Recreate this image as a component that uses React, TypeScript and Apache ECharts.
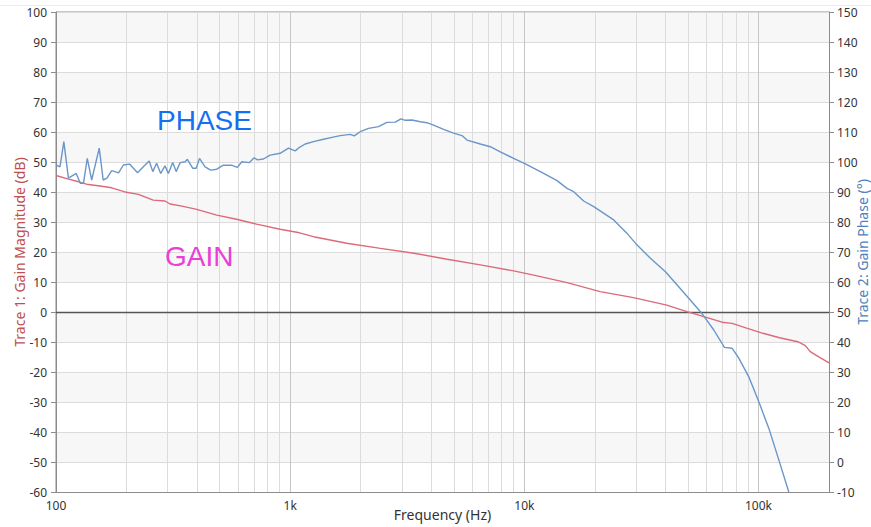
import React, { useEffect, useRef } from "react";
import * as echarts from "echarts";

// Trace 2: phase (degrees) vs frequency (Hz)
const phaseFreq = [
  100, 104, 108, 113, 122, 127, 131, 136, 142, 153,
  159, 165, 173, 185, 194, 206, 223, 236, 250, 259,
  269, 280, 292, 302, 315, 326, 339, 356, 364, 384,
  397, 410, 433, 458, 486, 516, 564, 595, 622, 670,
  702, 725, 769, 821, 906, 983, 1051, 1096, 1159, 1258,
  1388, 1508, 1636, 1805, 1877, 1991, 2161, 2384, 2589, 2810,
  2972, 3100, 3312, 3594, 3839, 4097, 4520, 4987, 5416, 5690,
  6486, 7155, 7897, 9001, 10100, 12090, 13790, 15220, 16240, 17920,
  19780, 24080, 27470, 30300, 34550, 40050, 44940, 50360, 56500, 59360,
  64420, 71550, 77200, 82380, 90890, 100300, 110700, 122100, 134700,
];
const phaseDeg = [
  99, 98.4, 106.8, 94.6, 96.2, 92.9, 92.9, 101.2, 94, 104.6,
  94, 94.6, 97.1, 96.4, 99, 99.3, 96.4, 98.4, 100.3, 96.8,
  99.6, 96.2, 98.7, 96.2, 99.8, 96.8, 99.8, 100.1, 100.9, 97.9,
  97.9, 101.2, 98.4, 97.3, 97.6, 98.9, 98.9, 98.2, 100.1, 99.8,
  101.4, 100.7, 101, 102.3, 102.9, 104.6, 103.7, 104.9, 106, 106.8,
  107.6, 108.2, 108.8, 109.2, 108.7, 110.1, 111.2, 111.8, 113.2, 113.3,
  114.4, 113.9, 114, 113.4, 113.1, 112.3, 110.9, 109.6, 108.8, 107.3,
  106, 105.1, 103.4, 101.2, 99.4, 96.2, 93.8, 91.2, 90.1, 87,
  85.1, 80.7, 76.2, 72.3, 67.9, 63.4, 59, 54.6, 50.1, 47.9,
  44, 38.2, 37.9, 34.6, 28.4, 20.1, 11.2, 0.7, -10,
];

// Trace 1: gain magnitude (dB) vs frequency (Hz)
const gainFreq = [
  100, 113, 125, 135, 154, 173, 200, 225, 260, 292,
  307, 345, 399, 486, 590, 719, 906, 1096, 1258, 1745,
  2430, 3380, 4680, 6486, 9001, 10970, 15220, 21090, 29250, 40580,
  49490, 56500, 69890, 77200, 89000, 104500, 123000, 147000, 158600, 166200,
  182400, 198400, 200000,
];
const gainDb = [
  45.5, 44.3, 43.4, 42.6, 42, 41.4, 39.9, 39.2, 37.3, 37,
  36, 35.3, 34.2, 32.3, 30.9, 29.3, 27.6, 26.4, 25.1, 22.9,
  21.2, 19.6, 17.6, 15.7, 13.7, 12.3, 9.8, 6.8, 4.8, 2.3,
  0.1, -1.2, -3.4, -3.8, -5.4, -7.1, -8.6, -9.9, -11.2, -13.2,
  -15.1, -16.8, -17,
];

const xTickLabels: Record<number, string> = { 2: "100", 3: "1k", 4: "10k", 5: "100k" };
const minorGridFreq = [
  200, 300, 400, 500, 600, 700, 800, 900,
  2000, 3000, 4000, 5000, 6000, 7000, 8000, 9000,
  20000, 30000, 40000, 50000, 60000, 70000, 80000, 90000,
];

const FONT = "'Noto Sans', 'Open Sans', sans-serif";
const AXIS_GRAY = "#8c8c8c";

export default function App() {
  const ref = useRef<HTMLDivElement>(null);

  useEffect(() => {
    const chart = echarts.init(ref.current!, null, { renderer: "svg" });
    chart.setOption({
      animation: false,
      backgroundColor: "#ffffff",
      textStyle: { fontFamily: FONT },
      grid: {
        left: 56,
        right: 42,
        top: 12,
        bottom: 35,
        containLabel: false,
        outerBoundsMode: "none",
        show: true,
        borderColor: AXIS_GRAY,
        borderWidth: 1,
        backgroundColor: "transparent",
      },
      xAxis: {
        type: "log",
        logBase: 10,
        min: 100,
        max: 200000,
        name: "Frequency (Hz)",
        nameLocation: "middle",
        nameGap: 15,
        nameMoveOverlap: false,
        nameTextStyle: { color: "#333", fontSize: 14, fontFamily: FONT },
        axisLine: { show: true, onZero: false, lineStyle: { color: AXIS_GRAY } },
        axisTick: { show: false },
        axisLabel: {
          color: "#333",
          fontSize: 12,
          margin: 7,
          fontFamily: FONT,
          formatter: (v: number) => {
            const e = Math.log10(v);
            const r = Math.round(e);
            return Math.abs(e - r) < 1e-6 ? xTickLabels[r] ?? "" : "";
          },
        },
        splitLine: { show: true, lineStyle: { color: "#c6c6c6", width: 1 } },
      },
      yAxis: [
        {
          type: "value",
          min: -60,
          max: 100,
          interval: 10,
          position: "left",
          name: "Trace 1: Gain Magnitude (dB)",
          nameLocation: "middle",
          nameGap: 30,
          nameMoveOverlap: false,
          nameTextStyle: { color: "#c0504d", fontSize: 14, fontFamily: FONT },
          axisLine: { show: true, lineStyle: { color: AXIS_GRAY } },
          axisTick: { show: true, length: 5, lineStyle: { color: AXIS_GRAY } },
          axisLabel: { color: "#333", fontSize: 12, margin: 9, fontFamily: FONT },
          splitLine: { show: true, lineStyle: { color: "#dcdcdc", width: 1 } },
          splitArea: { show: true, areaStyle: { color: ["#ffffff", "#f7f7f7"] } },
        },
        {
          type: "value",
          min: -10,
          max: 150,
          interval: 10,
          position: "right",
          name: "Trace 2: Gain Phase (°)",
          nameLocation: "middle",
          nameGap: 26,
          nameMoveOverlap: false,
          nameTextStyle: { color: "#4f81bd", fontSize: 14, fontFamily: FONT },
          axisLine: { show: true, lineStyle: { color: AXIS_GRAY } },
          axisTick: { show: true, length: 5, lineStyle: { color: AXIS_GRAY } },
          axisLabel: { color: "#333", fontSize: 12, margin: 8, fontFamily: FONT },
          splitLine: { show: false },
        },
      ],
      series: [
        {
          name: "grid",
          type: "line",
          data: [],
          silent: true,
          markLine: {
            z: 1,
            silent: true,
            symbol: "none",
            label: { show: false },
            animation: false,
            lineStyle: { color: "#dcdcdc", width: 1, type: "solid" },
            data: minorGridFreq.map((f) => ({ xAxis: f })),
          },
        },
        {
          name: "zero",
          type: "line",
          data: [],
          silent: true,
          markLine: {
            z: 1,
            silent: true,
            symbol: "none",
            label: { show: false },
            animation: false,
            lineStyle: { color: "#555555", width: 1.3, type: "solid" },
            data: [{ yAxis: 0 }],
          },
        },
        {
          name: "Gain",
          type: "line",
          yAxisIndex: 0,
          z: 3,
          showSymbol: false,
          symbol: "none",
          lineStyle: { color: "#dc6a7a", width: 1.4 },
          data: gainFreq.map((f, i) => [f, gainDb[i]]),
        },
        {
          name: "Phase",
          type: "line",
          yAxisIndex: 1,
          z: 3,
          showSymbol: false,
          symbol: "none",
          lineStyle: { color: "#6a96c9", width: 1.4 },
          data: phaseFreq.map((f, i) => [f, phaseDeg[i]]),
        },
      ],
      graphic: {
        elements: [
          {
            type: "line",
            z: 100,
            silent: true,
            shape: { x1: 0, y1: 5.5, x2: 871, y2: 5.5 },
            style: { stroke: "#ececec", lineWidth: 1 },
          },
          {
            type: "text",
            left: 157,
            top: 106,
            z: 100,
            silent: true,
            style: {
              text: "PHASE",
              fill: "#1570f0",
              fontSize: 28,
              fontFamily: "'Liberation Sans', Arial, sans-serif",
            },
          },
          {
            type: "text",
            left: 165,
            top: 242,
            z: 100,
            silent: true,
            style: {
              text: "GAIN",
              fill: "#ea3fd6",
              fontSize: 28,
              fontFamily: "'Liberation Sans', Arial, sans-serif",
            },
          },
        ],
      },
    });
    return () => chart.dispose();
  }, []);

  return (
    <div
      ref={ref}
      style={{ position: "fixed", left: 0, top: 0, width: 871, height: 527, background: "#fff" }}
    />
  );
}
